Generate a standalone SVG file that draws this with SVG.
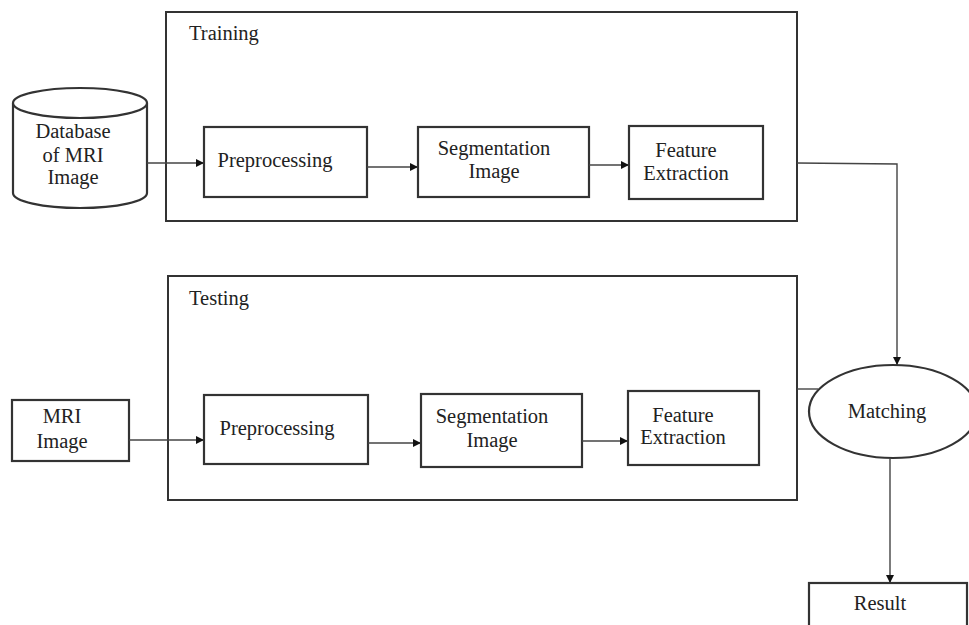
<svg xmlns="http://www.w3.org/2000/svg" width="969" height="625" viewBox="0 0 969 625">
<defs>
<marker id="arr" viewBox="0 0 10 10" refX="10" refY="5" markerWidth="9" markerHeight="8" markerUnits="userSpaceOnUse" orient="auto">
<path d="M0,0 L10,5 L0,10 z" fill="#111"/>
</marker>
<style>
.frame{fill:none;stroke:#333;stroke-width:2}
.box{fill:#fff;stroke:#333;stroke-width:2.2}
.ln{fill:none;stroke:#444;stroke-width:1.4}
text{font-family:'Liberation Serif','DejaVu Serif',serif;fill:#222;font-size:20.5px}
.t,.tl{text-anchor:middle}
</style>
</defs>
<rect width="969" height="625" fill="#fff"/>

<g id="training">
<rect class="frame" x="166" y="12" width="631" height="209"/>
<text class="lab" x="189" y="40">Training</text>
</g>
<g id="testing">
<rect class="frame" x="168" y="276" width="629" height="224"/>
<text class="lab" x="189" y="305">Testing</text>
</g>

<g id="database">
<path class="box" d="M13,103 L13,193 A67,15 0 0 0 147,193 L147,103"/>
<ellipse class="box" cx="80" cy="103" rx="67" ry="15"/>
<text class="tl" x="73" y="138">Database</text>
<text class="tl" x="73" y="162">of MRI</text>
<text class="tl" x="73" y="184">Image</text>
</g>

<g id="tr-pre">
<rect class="box" x="204" y="127" width="163" height="70"/>
<text class="t" x="275" y="167">Preprocessing</text>
</g>
<g id="tr-seg">
<rect class="box" x="418" y="127" width="171" height="70"/>
<text class="t" x="494" y="155">Segmentation</text>
<text class="t" x="494" y="178">Image</text>
</g>
<g id="tr-feat">
<rect class="box" x="629" y="126" width="134" height="73"/>
<text class="t" x="686" y="157">Feature</text>
<text class="t" x="686" y="180">Extraction</text>
</g>

<g id="mri">
<rect class="box" x="12" y="400" width="117" height="61"/>
<text class="tl" x="62" y="423">MRI</text>
<text class="tl" x="62" y="448">Image</text>
</g>
<g id="te-pre">
<rect class="box" x="204" y="395" width="164" height="69"/>
<text class="t" x="277" y="435">Preprocessing</text>
</g>
<g id="te-seg">
<rect class="box" x="421" y="394" width="161" height="73"/>
<text class="t" x="492" y="423">Segmentation</text>
<text class="t" x="492" y="447">Image</text>
</g>
<g id="te-feat">
<rect class="box" x="628" y="391" width="131" height="74"/>
<text class="t" x="683" y="422">Feature</text>
<text class="t" x="683" y="444">Extraction</text>
</g>

<g id="matching">
<ellipse class="box" cx="893" cy="411.5" rx="84" ry="46.5"/>
<text class="tl" x="887" y="418">Matching</text>
</g>
<g id="result">
<rect class="box" x="809" y="583" width="158" height="60"/>
<text class="tl" x="880" y="610">Result</text>
</g>

<g id="connectors">
<line class="ln" x1="147" y1="163" x2="204" y2="163" marker-end="url(#arr)"/>
<line class="ln" x1="367" y1="167" x2="418" y2="167" marker-end="url(#arr)"/>
<line class="ln" x1="589" y1="165" x2="629" y2="165" marker-end="url(#arr)"/>
<line class="ln" x1="129" y1="440" x2="204" y2="440" marker-end="url(#arr)"/>
<line class="ln" x1="368" y1="443" x2="421" y2="443" marker-end="url(#arr)"/>
<line class="ln" x1="582" y1="441" x2="628" y2="441" marker-end="url(#arr)"/>
<polyline class="ln" points="797,163 897,164 897,365" marker-end="url(#arr)"/>
<line class="ln" x1="797" y1="389" x2="818" y2="389"/>
<line class="ln" x1="890" y1="458" x2="890" y2="583" marker-end="url(#arr)"/>
</g>
</svg>
